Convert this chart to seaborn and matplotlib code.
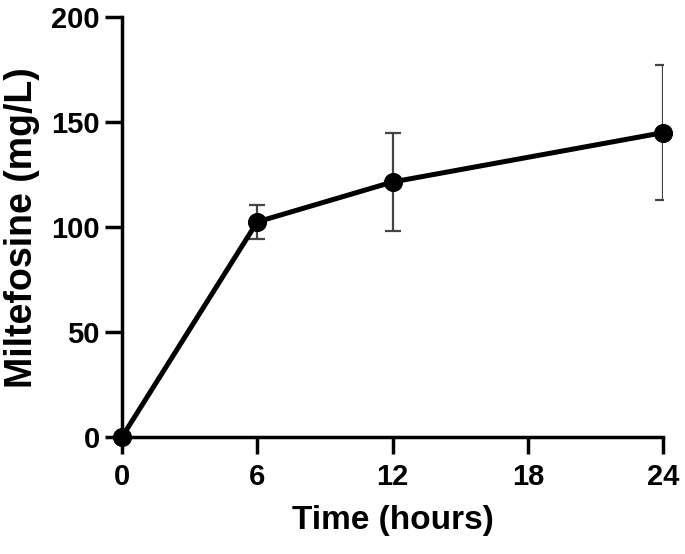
import pandas as pd
import matplotlib
matplotlib.use("Agg")
import matplotlib.pyplot as plt
import seaborn as sns

time_h = [0, 6, 12, 24]
conc = [0, 102.5, 121.5, 145]
sd = [0, 8, 23.5, 32]

df = pd.DataFrame({"time": time_h, "conc": conc, "sd": sd})

sns.set_style("ticks")
plt.rcParams['font.family'] = ['Liberation Sans', 'DejaVu Sans']
plt.rcParams['font.weight'] = 'bold'
plt.rcParams['text.color'] = 'black'
plt.rcParams['axes.labelcolor'] = 'black'
plt.rcParams['xtick.color'] = 'black'
plt.rcParams['ytick.color'] = 'black'

fig = plt.figure(figsize=(6.85, 5.54), dpi=100)
ax = fig.add_axes([0.178, 0.211, 0.79, 0.758])

ax.errorbar(df["time"], df["conc"], yerr=df["sd"], fmt="none",
            ecolor="#444444", elinewidth=1.6, capsize=6, capthick=1.6, zorder=2)
sns.lineplot(data=df, x="time", y="conc", ax=ax, color="black",
             linewidth=3.6, marker="o", markersize=13, markeredgecolor="black",
             zorder=3, clip_on=False)

ax.set_xlim(0, 24)
ax.set_ylim(0, 200)
ax.set_xticks([0, 6, 12, 18, 24])
ax.set_yticks([0, 50, 100, 150, 200])
ax.set_xlabel("Time (hours)", fontsize=24, fontweight="bold", labelpad=10)
ax.set_ylabel("Miltefosine (mg/L)", fontsize=27, fontweight="bold", labelpad=8)
ax.tick_params(axis="both", labelsize=21, width=2.5, length=12, color="black")
ax.tick_params(axis="x", pad=7)
ax.tick_params(axis="y", pad=4)
for lab in ax.get_xticklabels() + ax.get_yticklabels():
    lab.set_fontweight("bold")
for s in ["left", "bottom"]:
    ax.spines[s].set_linewidth(2.5)
    ax.spines[s].set_color("black")
sns.despine(ax=ax)

fig.savefig("out.png", dpi=100)
